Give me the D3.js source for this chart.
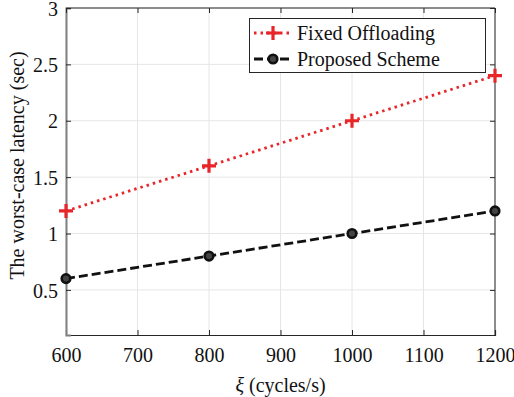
<!DOCTYPE html>
<html>
<head>
<meta charset="utf-8">
<script src="https://cdn.jsdelivr.net/npm/d3@7"></script>
<style>
  body { margin: 0; background: #fff; }
  svg text { font-family: "Liberation Serif", "Times New Roman", serif !important; }
</style>
</head>
<body>
<div id="chart"></div>
<script>
// data
var xiValues = [600, 800, 1000, 1200];
var fixedOffloading = [1.2, 1.6, 2.0, 2.4];
var proposedScheme = [0.6, 0.8, 1.0, 1.2];
var xTicks = [600, 700, 800, 900, 1000, 1100, 1200];
var yTicks = [0.5, 1, 1.5, 2, 2.5, 3];
var seriesNames = ["Fixed Offloading", "Proposed Scheme"];

var width = 514, height = 397;
var margin = {left: 66, right: 19, top: 8, bottom: 62};
var w = width - margin.left - margin.right,
    h = height - margin.top - margin.bottom;

var svg = d3.select("#chart").append("svg")
    .attr("width", width)
    .attr("height", height);

var g = svg.append("g")
    .attr("transform", "translate(" + margin.left + "," + margin.top + ")");

var x = d3.scaleLinear().domain([600, 1200]).range([0, w]);
var y = d3.scaleLinear().domain([0.1, 3]).range([h, 0]);

// grid
g.append("g").selectAll("line").data(xTicks).enter().append("line")
  .attr("x1", d => x(d)).attr("x2", d => x(d))
  .attr("y1", 0).attr("y2", h)
  .attr("stroke", "#e6e6e6").attr("stroke-width", 1);
g.append("g").selectAll("line").data(yTicks).enter().append("line")
  .attr("x1", 0).attr("x2", w)
  .attr("y1", d => y(d)).attr("y2", d => y(d))
  .attr("stroke", "#e6e6e6").attr("stroke-width", 1);

// box (top / right)
g.append("path")
  .attr("d", "M0,0H" + w + "V" + h)
  .attr("fill", "none").attr("stroke", "#262626").attr("stroke-width", 1);

// axes, ticks pointing in
var xAxis = g.append("g")
  .attr("transform", "translate(0," + h + ")")
  .call(d3.axisBottom(x).tickValues(xTicks).tickSize(-5).tickPadding(13).tickFormat(d3.format("d")));
var yAxis = g.append("g")
  .call(d3.axisLeft(y).tickValues(yTicks).tickSize(-5).tickPadding(8).tickFormat(d => d));
// top / right ticks
g.append("g")
  .call(d3.axisTop(x).tickValues(xTicks).tickSize(-5).tickFormat(""))
  .select(".domain").remove();
g.append("g").attr("transform", "translate(" + w + ",0)")
  .call(d3.axisRight(y).tickValues(yTicks).tickSize(-5).tickFormat(""))
  .select(".domain").remove();

g.selectAll(".tick line").attr("stroke", "#262626");
xAxis.select(".domain").attr("stroke", "#262626").attr("stroke-width", 1.2);
yAxis.select(".domain").attr("stroke", "#808080").attr("stroke-width", 2);
g.selectAll(".tick text")
  .attr("font-size", 20).attr("fill", "#111");
yAxis.selectAll(".tick text").attr("dy", "0.36em");

// lines
var line = d3.line()
  .x((d, i) => x(xiValues[i]))
  .y(d => y(d));

g.append("path")
  .datum(fixedOffloading)
  .attr("d", line)
  .attr("fill", "none").attr("stroke", "#e8262a")
  .attr("stroke-width", 2.8).attr("stroke-dasharray", "2.5,4");

g.append("path")
  .datum(proposedScheme)
  .attr("d", line)
  .attr("fill", "none").attr("stroke", "#111")
  .attr("stroke-width", 2.8).attr("stroke-dasharray", "9,4");

// markers
function plus(sel, cx, cy, s) {
  sel.append("path")
    .attr("d", "M" + (cx - s) + "," + cy + "H" + (cx + s) + "M" + cx + "," + (cy - s) + "V" + (cy + s))
    .attr("stroke", "#e8262a").attr("stroke-width", 3.2).attr("fill", "none");
}
function circ(sel, cx, cy) {
  sel.append("circle").attr("cx", cx).attr("cy", cy).attr("r", 4.3)
    .attr("fill", "#444").attr("stroke", "#111").attr("stroke-width", 2.6);
}
fixedOffloading.forEach((v, i) => plus(g, x(xiValues[i]), y(v), 7));
proposedScheme.forEach((v, i) => circ(g, x(xiValues[i]), y(v)));

// legend
var lg = svg.append("g");
lg.append("rect")
  .attr("x", 249.5).attr("y", 18.5).attr("width", 236).attr("height", 54)
  .attr("fill", "#fff").attr("stroke", "#262626").attr("stroke-width", 1);
var ly = [33, 59];
lg.append("line").attr("x1", 254).attr("x2", 293).attr("y1", ly[0]).attr("y2", ly[0])
  .attr("stroke", "#e8262a").attr("stroke-width", 2.8).attr("stroke-dasharray", "2.5,4");
plus(lg, 273, ly[0], 7);
lg.append("line").attr("x1", 254).attr("x2", 293).attr("y1", ly[1]).attr("y2", ly[1])
  .attr("stroke", "#111").attr("stroke-width", 2.8).attr("stroke-dasharray", "9,4");
circ(lg, 273, ly[1]);
lg.selectAll("text").data(seriesNames).enter().append("text")
  .attr("x", 297).attr("y", (d, i) => ly[i] + 7)
  .attr("font-size", 20).attr("fill", "#111")
  .text(d => d);

// axis labels
svg.append("text")
  .attr("x", margin.left + w / 2).attr("y", 392)
  .attr("text-anchor", "middle").attr("font-size", 20).attr("fill", "#111")
  .html("<tspan font-style='italic'>ξ</tspan> (cycles/s)");
svg.append("text")
  .attr("transform", "translate(24," + (margin.top + h / 2 - 6) + ") rotate(-90)")
  .attr("text-anchor", "middle").attr("font-size", 20).attr("fill", "#111")
  .text("The worst-case latency (sec)");
</script>
</body>
</html>
